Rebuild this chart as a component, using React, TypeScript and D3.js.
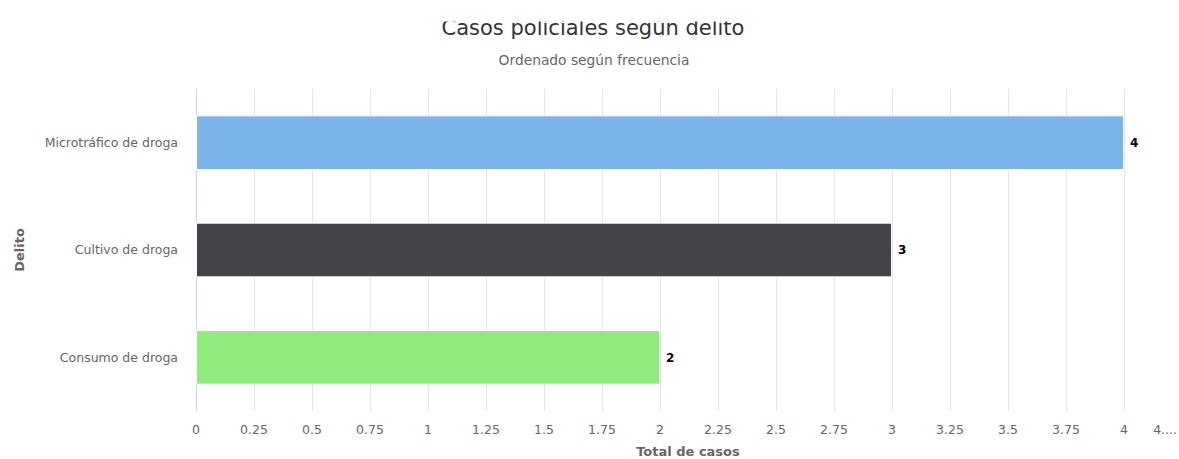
import React, { useEffect, useRef } from 'react'
import * as d3 from 'd3'

// chart data
const categories = ['Microtráfico de droga', 'Cultivo de droga', 'Consumo de droga']
const totals = [4, 3, 2]
const barColors = ['#7cb5ec', '#434348', '#90ed7d']
const xTicks = [0, 0.25, 0.5, 0.75, 1, 1.25, 1.5, 1.75, 2, 2.25, 2.5, 2.75, 3, 3.25, 3.5, 3.75, 4, 4.25]

const titleText = 'Casos policiales según delito'
const subtitleText = 'Ordenado según frecuencia'
const yTitle = 'Delito'
const xTitle = 'Total de casos'

const W = 1179
const H = 459
const FONT = '"DejaVu Sans", sans-serif'

function drawChart(el: SVGSVGElement) {
    const svg = d3.select(el)
    svg.selectAll('*').remove()
    svg.attr('width', W).attr('height', H).style('font-family', FONT)

    const plot = { left: 196, right: 1182, top: 89, bottom: 411 }

    const x = d3.scaleLinear().domain([0, 4.25]).range([plot.left, plot.right])
    const y = d3.scaleBand()
        .domain(categories)
        .range([plot.top, plot.bottom])
        .paddingInner(0.5)
        .paddingOuter(0.25)
    const yOuter = d3.scaleBand().domain(categories).range([plot.top, plot.bottom])

    // title (top is cut off in the reference)
    svg.append('clipPath').attr('id', 'titleClip')
        .append('rect').attr('x', 0).attr('y', 21.5).attr('width', W).attr('height', 40)
    svg.append('text')
        .attr('clip-path', 'url(#titleClip)')
        .attr('x', 593).attr('y', 34.5)
        .attr('text-anchor', 'middle')
        .attr('fill', '#333333')
        .style('font-size', '21px')
        .text(titleText)
    svg.append('text')
        .attr('x', 594).attr('y', 65)
        .attr('text-anchor', 'middle')
        .attr('fill', '#666666')
        .style('font-size', '13.8px')
        .text(subtitleText)

    // vertical grid
    svg.append('g').selectAll('line').data(xTicks).join('line')
        .attr('x1', d => Math.round(x(d)) + 0.5).attr('x2', d => Math.round(x(d)) + 0.5)
        .attr('y1', plot.top).attr('y2', plot.bottom)
        .attr('stroke', '#e6e6e6').attr('stroke-width', 1)

    // category axis line
    svg.append('line')
        .attr('x1', x(0) + 0.5).attr('x2', x(0) + 0.5)
        .attr('y1', plot.top).attr('y2', plot.bottom)
        .attr('stroke', '#ccd6eb')

    // x tick labels (the last one is shortened, as in the reference)
    svg.append('g').selectAll('text').data(xTicks).join('text')
        .attr('x', d => (x(d) > W - 10 ? W - 2 : x(d)))
        .attr('y', 434)
        .attr('text-anchor', d => (x(d) > W - 10 ? 'end' : 'middle'))
        .attr('fill', '#666666')
        .style('font-size', '12.5px')
        .text(d => (x(d) > W - 10 ? String(Math.floor(d)) + '....' : String(d)))

    // category labels
    svg.append('g').selectAll('text').data(categories).join('text')
        .attr('x', 178)
        .attr('y', d => (yOuter(d) as number) + yOuter.bandwidth() / 2)
        .attr('dy', '0.35em')
        .attr('text-anchor', 'end')
        .attr('fill', '#666666')
        .style('font-size', '12.5px')
        .text(d => d)

    // bars
    svg.append('g').selectAll('rect').data(categories).join('rect')
        .attr('x', x(0) + 0.5)
        .attr('y', d => y(d) as number)
        .attr('width', (d, i) => x(totals[i]) - x(0) - 1)
        .attr('height', y.bandwidth())
        .attr('fill', (d, i) => barColors[i])
        .attr('stroke', '#ffffff').attr('stroke-width', 1)

    // data labels
    svg.append('g').selectAll('text').data(categories).join('text')
        .attr('x', (d, i) => x(totals[i]) + 6)
        .attr('y', d => (y(d) as number) + y.bandwidth() / 2)
        .attr('dy', '0.35em')
        .attr('fill', '#000000')
        .attr('stroke', '#ffffff').attr('stroke-width', 2)
        .attr('paint-order', 'stroke')
        .style('font-size', '12px')
        .style('font-weight', 'bold')
        .text((d, i) => totals[i])

    // axis titles
    svg.append('text')
        .attr('x', 688).attr('y', 456)
        .attr('text-anchor', 'middle')
        .attr('fill', '#666666')
        .style('font-size', '13px').style('font-weight', 'bold')
        .text(xTitle)
    svg.append('text')
        .attr('transform', 'translate(24,' + (plot.top + plot.bottom) / 2 + ') rotate(-90)')
        .attr('text-anchor', 'middle')
        .attr('fill', '#666666')
        .style('font-size', '13px').style('font-weight', 'bold')
        .text(yTitle)
}

const App = () => {
    const ref = useRef<SVGSVGElement>(null)
    useEffect(() => {
        if (ref.current) drawChart(ref.current)
    })

    return (
        <div style={{ position: 'absolute', left: 0, top: 0, width: W, height: H, background: '#fff' }}>
            <svg ref={ref} style={{ display: 'block' }}></svg>
        </div>
    )
}

export default App
